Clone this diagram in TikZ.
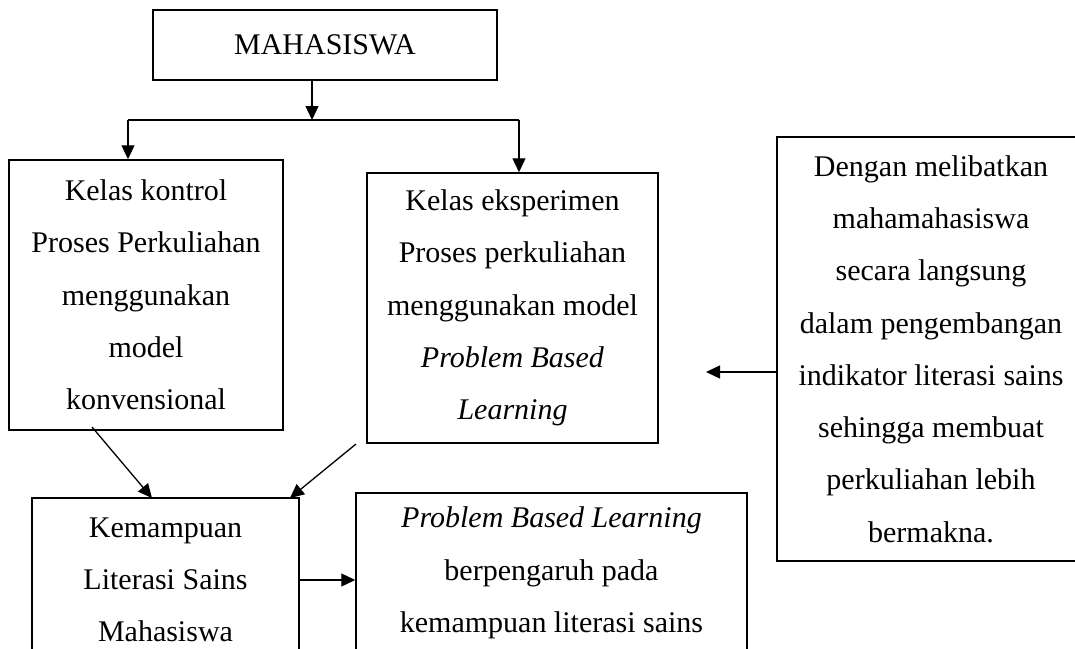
\documentclass[tikz,border=0pt]{standalone}
\usepackage{fontspec}
\setmainfont{Liberation Serif}
\usetikzlibrary{arrows.meta}

\begin{document}
\begin{tikzpicture}[x=1pt, y=-1pt,
  every node/.style={font=\fontsize{30}{52.3}\selectfont},
  kotak/.style={draw, line width=1.5pt, align=center, inner sep=0pt},
  panah/.style={line width=1.3pt, -{Triangle[length=14pt, width=13pt]}}]
  \clip (0,0) rectangle (1075,648);
  % boxes
  \node[kotak, minimum width=344pt, minimum height=70pt] (mhs) at (325,45) {MAHASISWA};
  \node[kotak, minimum width=274pt, minimum height=270pt] (kontrol) at (146,295)
    {Kelas kontrol\\Proses Perkuliahan\\menggunakan\\model\\konvensional};
  \node[kotak, minimum width=291pt, minimum height=270pt] (eksperimen) at (512.5,308)
    {Kelas eksperimen\\Proses perkuliahan\\menggunakan model\\\textit{Problem Based}\\\textit{Learning}};
  \node[kotak, minimum width=308pt, minimum height=424pt] (melibatkan) at (931,349)
    {Dengan melibatkan\\mahamahasiswa\\secara langsung\\dalam pengembangan\\indikator literasi sains\\sehingga membuat\\perkuliahan lebih\\bermakna.};
  \node[kotak, minimum width=267pt, minimum height=164pt] (kemampuan) at (165.5,580)
    {Kemampuan\\Literasi Sains\\Mahasiswa};
  \node[kotak, minimum width=391pt, minimum height=160pt] (pengaruh) at (551.5,573)
    {\textit{Problem Based Learning}\\berpengaruh pada\\kemampuan literasi sains};
  % branch points
  \coordinate (bagi) at (312,120);
  \coordinate (kiri) at (128,120);
  \coordinate (kanan) at (519,120);
  \coordinate (dari1) at (92,427);
  \coordinate (ke1) at (152,498);
  \coordinate (dari2) at (356,444);
  \coordinate (ke2) at (290,498);
  \coordinate (ujung) at (706,372);
  % connectors
  \draw[panah] (mhs.south -| bagi) -- (bagi);
  \draw[line width=1.3pt] (kiri) -- (kanan);
  \draw[panah] (kiri) -- (kiri |- kontrol.north);
  \draw[panah] (kanan) -- (kanan |- eksperimen.north);
  \draw[panah] (dari1) -- (ke1);
  \draw[panah] (dari2) -- (ke2);
  \draw[panah] (melibatkan.west |- ujung) -- (ujung);
  \draw[panah] (kemampuan.east) -- (kemampuan.east -| pengaruh.west);
\end{tikzpicture}
\end{document}
